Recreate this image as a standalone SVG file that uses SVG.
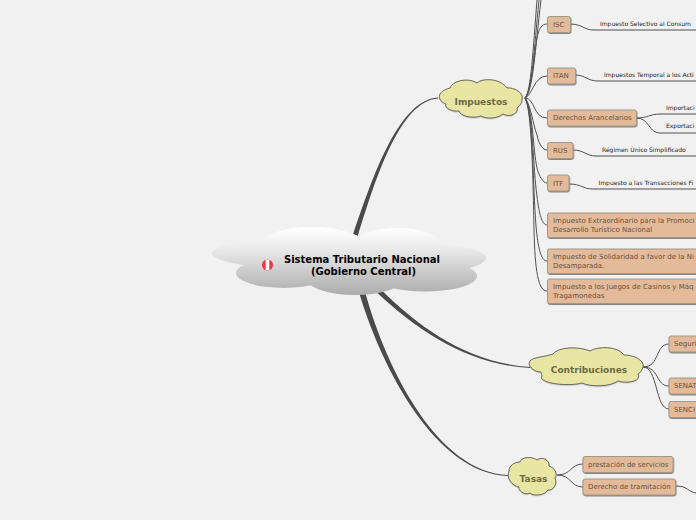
<svg xmlns="http://www.w3.org/2000/svg" width="696" height="520" viewBox="0 0 696 520">
<defs>
<linearGradient id="g" gradientUnits="userSpaceOnUse" x1="0" y1="227" x2="0" y2="295"><stop offset="0" stop-color="#ffffff"/><stop offset="0.3" stop-color="#ececec"/><stop offset="1" stop-color="#acacac"/></linearGradient>
<filter id="s" x="-20%" y="-30%" width="140%" height="170%"><feDropShadow dx="0.5" dy="1" stdDeviation="0.7" flood-color="#555" flood-opacity="0.7"/></filter>
<filter id="s2" x="-10%" y="-10%" width="120%" height="125%"><feDropShadow dx="0" dy="0.5" stdDeviation="0.5" flood-color="#777" flood-opacity="0.5"/></filter>
</defs>
<style>
text{font-family:"DejaVu Sans",Verdana,sans-serif}
.c{fill:none;stroke:#505050;stroke-width:1}
.m{fill:#4a4a4a;stroke:none}
.box{fill:#e3bb9a;stroke:#a09888;stroke-width:1;filter:url(#s)}
.t{font-size:7px;fill:#6b4f3a}
.l{font-size:6px;fill:#222}
.cl{fill:#e9e5a2;stroke:#6a6a60;stroke-width:1;filter:url(#s2)}
.h{font-size:9px;font-weight:bold;fill:#6b6b45;text-anchor:middle}
.r{fill:url(#g)}
</style>
<rect width="696" height="520" fill="#f1f1f1"/>
<g id="connectors">
<path class="m" d="M357.900 235.800C373.600 185.500 398.800 100.600 438 98.500L438 97.500C397.200 99.400 370.400 184.500 353.100 234.200Z"/>
<path class="m" d="M380.800 289.200C421 329.700 470.300 363 530 367L530 368C469.700 365 419 332.300 377.200 292.800Z"/>
<path class="m" d="M364.900 291.200C386.800 371.200 438.600 472.200 508 475L508 476C437.400 473.800 383.200 372.800 359.100 292.800Z"/>
<path class="c" d="M525 98C531 92 533 50 537 0"/>
<path class="c" d="M525 98C532 92 534 50 539 0"/>
<path class="c" d="M525 98C533 92 535 50 541 0"/>
<path class="c" d="M525 98C532 90 533 60 537 38C539 28 542 24 547 24"/>
<path class="c" d="M525 98C532 96 534 76 547 76"/>
<path class="c" d="M525 98C535 98 533 118 547 118"/>
<path class="c" d="M525 98C531 105 533 125 537 135C539 145 543 150 547 150"/>
<path class="c" d="M525 98C533 110 533 150 537 168C539 176 543 183 547 183"/>
<path class="c" d="M525 98C533 110 533 170 537 196C539 214 542 225 547 225"/>
<path class="c" d="M525 98C533 110 533 190 536 226C538 248 541 261 547 261"/>
<path class="c" d="M525 98C532 110 533 180 534 230C535 270 538 291 547 291"/>
<path class="c" d="M570 24C582 24 584 30 594 30H696"/>
<path class="c" d="M575 75C586 75 587 81 598 81H696"/>
<path class="c" d="M636 118C648 118 650 114 660 114H696"/>
<path class="c" d="M636 118C650 118 648 133 660 133H696"/>
<path class="c" d="M573 150C584 150 586 156 596 156H696"/>
<path class="c" d="M569 184C582 184 582 189 593 189H696"/>
<path class="c" d="M643 367C660 367 655 344 669 344"/>
<path class="c" d="M643 367C660 367 655 386 669 386"/>
<path class="c" d="M643 367C658 367 655 409 669 409"/>
<path class="c" d="M557 475C572 475 570 464 583 464"/>
<path class="c" d="M557 475C572 475 570 487 583 487"/>
<path class="c" d="M676 486C688 486 688 492 696 493"/>
</g>
<g id="root">
<ellipse class="r" cx="312" cy="245" rx="52" ry="18"/>
<ellipse class="r" cx="397" cy="245" rx="44" ry="17"/>
<ellipse class="r" cx="280" cy="253" rx="68" ry="14"/>
<ellipse class="r" cx="420" cy="258" rx="66" ry="15"/>
<ellipse class="r" cx="284" cy="273" rx="48" ry="15"/>
<ellipse class="r" cx="425" cy="276" rx="52" ry="15.500"/>
<ellipse class="r" cx="355" cy="277" rx="50" ry="18"/>
<rect class="r" x="290" y="245" width="130" height="35"/>
<ellipse cx="267.500" cy="265" rx="5.500" ry="5.500" fill="#ee3344"/>
<rect x="265.700" y="259.800" width="3.600" height="10.400" fill="#ffffff"/>
<text x="362" y="263" font-size="10px" font-weight="bold" fill="#000" text-anchor="middle">Sistema Tributario Nacional</text>
<text x="363.500" y="275" font-size="10px" font-weight="bold" fill="#000" text-anchor="middle">(Gobierno Central)</text>
</g>
<g id="impuestos">
<path class="cl" d="M450 88C452 81 468 77 477 83C482 78 500 78 507 88C514 87 524 93 522 99C522 104 519 106 517 108C519 113 510 118 503 114C497 119 486 119 481 116C472 119 460 116 459 111C452 112 444 108 446 104C438 101 435 92 450 88Z"/>
<text class="h" x="481" y="105">Impuestos</text>
</g>
<g id="contribuciones">
<path class="cl" d="M553 354C558 347 578 346 590 351C598 346 618 346 624 355C636 355 645 362 643 367C642 371 640 372 638 374C642 381 628 384 618 381C610 387 590 387 582 383C572 386 546 385 541 378C543 376 541 373 541 372C533 372 527 365 530 361C533 357 545 357 553 354Z"/>
<text class="h" x="589" y="373">Contribuciones</text>
</g>
<g id="tasas">
<path class="cl" d="M520 462C521 457 532 456 537 460C542 456 550 460 549 466C555 468 558 474 555 478C558 484 553 491 548 490C545 496 532 496 530 493C524 496 518 490 519 487C512 486 506 478 509 471C509 466 514 462 520 462Z"/>
<text class="h" x="533.500" y="482">Tasas</text>
</g>
<g id="isc"><rect class="box" x="547.500" y="16.500" width="23" height="16" rx="2"/><text class="t" x="553" y="27">ISC</text></g>
<g id="itan"><rect class="box" x="547.500" y="68" width="28" height="16" rx="2"/><text class="t" x="553" y="78">ITAN</text></g>
<g id="derechos"><rect class="box" x="547.500" y="110" width="89" height="16" rx="2"/><text class="t" x="553" y="120">Derechos Arancelarios</text></g>
<g id="rus"><rect class="box" x="547.500" y="142.500" width="25.500" height="16" rx="2"/><text class="t" x="553" y="153">RUS</text></g>
<g id="itf"><rect class="box" x="547.500" y="175" width="21.500" height="16" rx="2"/><text class="t" x="553" y="186">ITF</text></g>
<g id="extraordinario"><rect class="box" x="547.500" y="213" width="160" height="24.500" rx="2"/><text class="t" x="553" y="223">Impuesto Extraordinario para la Promoci</text><text class="t" x="553" y="232">Desarrollo Turístico Nacional</text></g>
<g id="solidaridad"><rect class="box" x="547.500" y="249" width="160" height="24.500" rx="2"/><text class="t" x="553" y="259">Impuesto de Solidaridad a favor de la Ni</text><text class="t" x="553" y="268">Desamparada.</text></g>
<g id="juegos"><rect class="box" x="547.500" y="279" width="160" height="24.500" rx="2"/><text class="t" x="553" y="289">Impuesto a los Juegos de Casinos y Máq</text><text class="t" x="553" y="298">Tragamonedas</text></g>
<g id="seguridad"><rect class="box" x="669" y="336" width="40" height="16" rx="2"/><text class="t" x="674" y="346">Seguri</text></g>
<g id="senati"><rect class="box" x="669" y="378" width="40" height="16" rx="2"/><text class="t" x="674" y="388">SENAT</text></g>
<g id="sencico"><rect class="box" x="669" y="401.500" width="40" height="16" rx="2"/><text class="t" x="674" y="412">SENCI</text></g>
<g id="prestacion"><rect class="box" x="583" y="456.500" width="90" height="16" rx="2"/><text class="t" x="588" y="467">prestación de servicios</text></g>
<g id="tramitacion"><rect class="box" x="583" y="479" width="92.500" height="16" rx="2"/><text class="t" x="588" y="489">Derecho de tramitación</text></g>
<g id="labels">
<text class="l" x="600" y="26">Impuesto Selectivo al Consum</text>
<text class="l" x="604" y="77">Impuestos Temporal a los Acti</text>
<text class="l" x="666" y="110">Importaci</text>
<text class="l" x="666" y="128">Exportaci</text>
<text class="l" x="602" y="152">Régimen Único Simplificado</text>
<text class="l" x="598.500" y="185">Impuesto a las Transacciones Fi</text>
</g>
</svg>
